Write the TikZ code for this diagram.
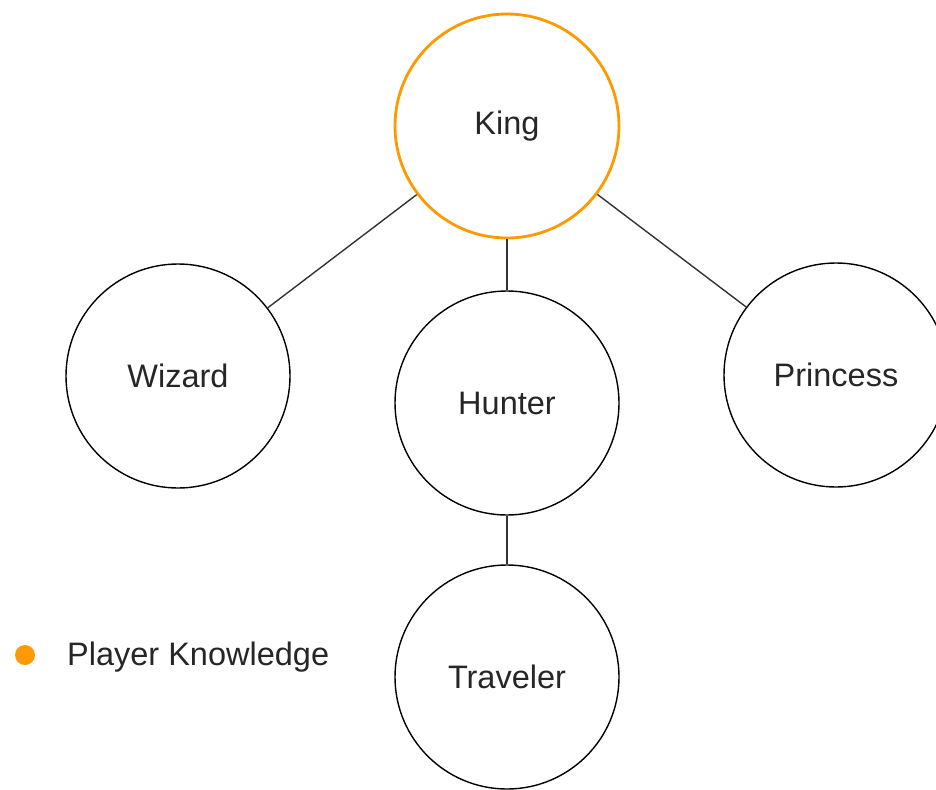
\documentclass[tikz,border=0pt]{standalone}
\usepackage{fontspec}
\setmainfont{Liberation Sans}
\definecolor{kingorange}{HTML}{FF9900}
\definecolor{linegray}{HTML}{333333}
\begin{document}
\begin{tikzpicture}[x=1pt,y=-1pt,
  person/.style={circle,draw=black,line width=1.4pt,minimum size=224pt,inner sep=0pt,font=\fontsize{32.5}{38}\selectfont,text=black!85},
  link/.style={draw=linegray,line width=1.4pt}]
\useasboundingbox (0,0) rectangle (936,789);
\node[person,draw=kingorange,line width=2.8pt] (king) at (507,126) {King};
\node[person] (wizard) at (178,376) {Wizard};
\node[person] (hunter) at (507,403) {Hunter};
\node[person] (princess) at (836,375) {Princess};
\node[person] (traveler) at (507,677) {Traveler};
\draw[link] (king) -- (wizard);
\draw[link] (king) -- (hunter);
\draw[link] (king) -- (princess);
\draw[link] (hunter) -- (traveler);
\node[circle,fill=kingorange,minimum size=20pt,inner sep=0pt] (dot) at (25,655) {};
\node[anchor=west,inner sep=0pt,font=\fontsize{32.5}{38}\selectfont,text=black!85] (legend) at (67,657) {Player Knowledge};
\end{tikzpicture}
\end{document}
